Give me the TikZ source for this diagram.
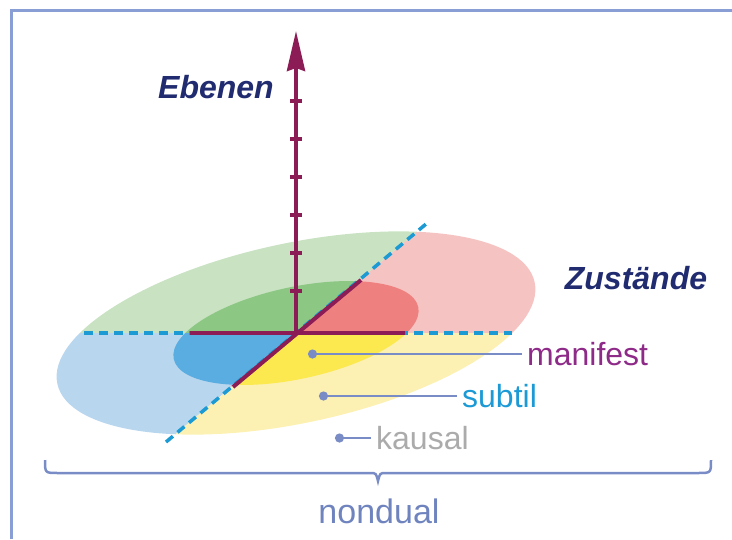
\documentclass[tikz,border=0pt]{standalone}
\usepackage{fontspec}
\setmainfont{Liberation Sans}
\usetikzlibrary{arrows.meta}

\definecolor{axiscol}{HTML}{8C1C55}
\definecolor{dashcol}{HTML}{1B9AD4}
\definecolor{navy}{HTML}{202B70}
\definecolor{framecol}{HTML}{8A9ED6}
\definecolor{pointercol}{HTML}{7A8CC6}
\definecolor{manifestcol}{HTML}{8E2A88}
\definecolor{subtilcol}{HTML}{1C9AD6}
\definecolor{kausalcol}{HTML}{ABABAB}
\definecolor{nondualcol}{HTML}{6F84BF}
\definecolor{greenL}{HTML}{C8E2C2}
\definecolor{greenD}{HTML}{8CC784}
\definecolor{pinkL}{HTML}{F5C4C2}
\definecolor{pinkD}{HTML}{EF8080}
\definecolor{yellowL}{HTML}{FCF1B2}
\definecolor{yellowD}{HTML}{FBE94F}
\definecolor{blueL}{HTML}{B9D6EF}
\definecolor{blueD}{HTML}{5AADE0}

\begin{document}
\begin{tikzpicture}[x=1pt, y=-1pt,
  title/.style={font=\bfseries\itshape\fontsize{32}{38}\selectfont, text=navy},
  lbl/.style={font=\fontsize{32}{38}\selectfont, anchor=west, inner xsep=5pt},
  pointer/.style={draw=pointercol, line width=2.5pt, -{Circle[length=9pt]}},
  axis/.style={draw=axiscol, line width=4pt},
  dashline/.style={draw=dashcol, line width=3.5pt, dash pattern=on 9pt off 6pt},
  outer/.style={rotate around={12:(O)}, x radius=244pt, y radius=90pt},
  inner/.style={rotate around={12:(O)}, x radius=125pt, y radius=46pt}]
\useasboundingbox (0,0) rectangle (732,539);

% Frame
\draw[framecol, line width=3pt] (11,539) -- (11,10) -- (732,10);

\coordinate (O) at (296,333);

% States: four quadrants of the two ellipses
\begin{scope}
  \clip (O) -- (946,333) -- (946,-212) -- cycle;
  \fill[pinkL] (O) ellipse [outer];
  \fill[pinkD] (O) ellipse [inner];
\end{scope}
\begin{scope}
  \clip (O) -- (946,-212) -- (-400,-212) -- (-400,333) -- cycle;
  \fill[greenL] (O) ellipse [outer];
  \fill[greenD] (O) ellipse [inner];
\end{scope}
\begin{scope}
  \clip (O) -- (-400,333) -- (-354,878) -- cycle;
  \fill[blueL] (O) ellipse [outer];
  \fill[blueD] (O) ellipse [inner];
\end{scope}
\begin{scope}
  \clip (O) -- (-354,878) -- (946,878) -- (946,333) -- cycle;
  \fill[yellowL] (O) ellipse [outer];
  \fill[yellowD] (O) ellipse [inner];
\end{scope}

% Axes
\coordinate (hl) at (84,333);
\coordinate (hr) at (512,333);
\coordinate (dl) at (166,442);
\coordinate (dr) at (426,224);
\draw[dashline] (hl) -- (hr);
\draw[dashline] (dl) -- (dr);
\draw[axis] (190,333) -- (405,333);
\draw[axis] (233,387) -- (361,280);
\coordinate (top) at (296,31);
\draw[axis, -{Stealth[length=40pt, width=18pt, inset=3pt]}] (O) -- (top);
\foreach \y in {101,139,...,291}
  \draw[axis] (290,\y) -- (302,\y);

% Titles
\node[title] (ebenen) at (216,87) {Ebenen};
\node[title] (zustaende) at (636,278) {Zustände};

% Labels
\node[lbl, text=manifestcol] (manifest) at (522,354) {manifest};
\node[lbl, text=subtilcol] (subtil) at (457,396) {subtil};
\node[lbl, text=kausalcol] (kausal) at (371,438) {kausal};
\coordinate (mdot) at (308,354);
\coordinate (sdot) at (319,396);
\coordinate (kdot) at (335,438);
\draw[pointer] (manifest.west) -- (mdot);
\draw[pointer] (subtil.west) -- (sdot);
\draw[pointer] (kausal.west) -- (kdot);

% Brace
\node[font=\fontsize{34}{40}\selectfont, text=nondualcol] (nondual) at (379,511) {nondual};
\draw[pointercol, line width=2.5pt] (45,460) .. controls (45,473) .. (58,473) -- (370,473)
  .. controls (376,473) .. (378,481) .. controls (380,473) .. (386,473) -- (698,473)
  .. controls (711,473) .. (711,460);
\end{tikzpicture}
\end{document}
